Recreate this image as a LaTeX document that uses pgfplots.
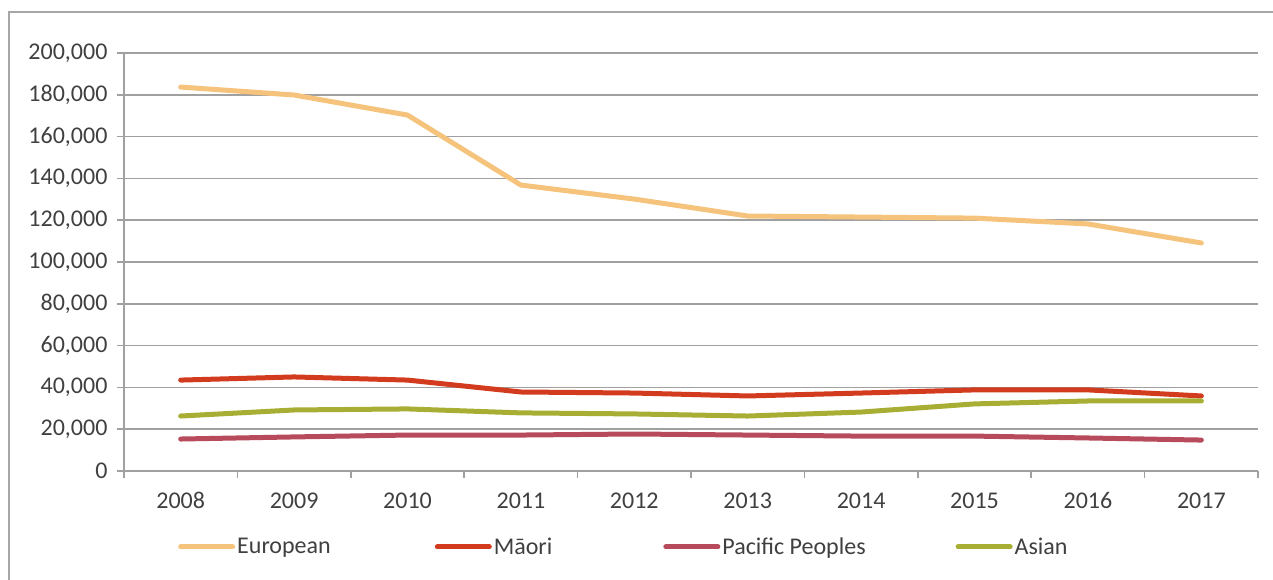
\documentclass[border=0pt]{standalone}
\usepackage{pgfplots}
\pgfplotsset{compat=1.18}
\usepackage{fontspec}
\setmainfont{Carlito}
\definecolor{eur}{HTML}{F5C37B}
\definecolor{mao}{HTML}{D23B1E}
\definecolor{pac}{HTML}{B74B5B}
\definecolor{asi}{HTML}{A8AD33}
\definecolor{gridc}{HTML}{A0A0A0}
\definecolor{framec}{HTML}{A6A6A6}
\definecolor{txt}{HTML}{404040}
\begin{document}
\begin{tikzpicture}[x=1pt,y=1pt]
\path[use as bounding box] (0,0) rectangle (1273,580);
\draw[framec, line width=1.6pt] (9,-2) -- (9,568) -- (1275,568);
\begin{axis}[
  at={(124pt,109pt)}, anchor=south west,
  scale only axis, width=1134pt, height=418pt,
  xmin=-0.5, xmax=9.5, ymin=0, ymax=200000,
  axis x line*=bottom, axis y line*=left,
  axis line style={gridc, line width=1.6pt},
  xtick={0,...,9},
  xticklabels={2008,2009,2010,2011,2012,2013,2014,2015,2016,2017},
  minor xtick={-0.5,0.5,...,9.5},
  major x tick style={draw=none},
  minor tick length=7pt,
  ytick={0,20000,...,200000},
  major tick length=7pt,
  tick align=outside,
  tick style={gridc, line width=1.6pt},
  ymajorgrids, grid style={gridc, line width=1.6pt},
  scaled y ticks=false,
  /pgf/number format/fixed,
  /pgf/number format/precision=0,
  /pgf/number format/1000 sep={,},
  /pgf/number format/assume math mode=true,
  ticklabel style={font=\fontsize{24}{29}\selectfont, text=txt},
  xticklabel style={yshift=-11pt},
  yticklabel style={xshift=-6pt},
  every axis plot/.append style={line width=5pt, line cap=round, line join=round},
  legend columns=4,
  legend style={draw=none, at={(0.0476,-0.1818)}, anchor=west, inner sep=0pt,
    font=\fontsize{24}{29}\selectfont, text=txt,
    /tikz/column 2/.style={column sep=102pt},
    /tikz/column 4/.style={column sep=109pt},
    /tikz/column 6/.style={column sep=88pt}},
  legend image code/.code={\draw[#1, line width=5pt, line cap=round] (0pt,0pt) -- (52pt,0pt);},
  clip=false,
]
\addplot[eur] coordinates {(0,183700) (1,179900) (2,170300) (3,136800) (4,130100) (5,122000) (6,121500) (7,121000) (8,118200) (9,109100)};
\addlegendentry{European}
\addplot[mao] coordinates {(0,43500) (1,45000) (2,43500) (3,37800) (4,37300) (5,35900) (6,37300) (7,38800) (8,38800) (9,35900)};
\addlegendentry{Māori}
\addplot[pac] coordinates {(0,15300) (1,16300) (2,17200) (3,17200) (4,17700) (5,17200) (6,16700) (7,16700) (8,15800) (9,14800)};
\addlegendentry{Pacific Peoples}
\addplot[asi] coordinates {(0,26300) (1,29200) (2,29700) (3,27800) (4,27300) (5,26300) (6,28200) (7,32100) (8,33500) (9,33500)};
\addlegendentry{Asian}
\end{axis}
\end{tikzpicture}
\end{document}
